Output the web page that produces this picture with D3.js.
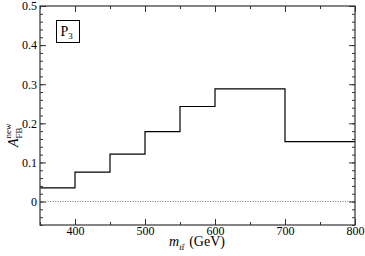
<!DOCTYPE html>
<html>
<head>
<meta charset="utf-8">
<script src="https://cdn.jsdelivr.net/npm/d3@7"></script>
<style>
  body { margin: 0; background: #fff; }
</style>
</head>
<body>
<div id="chart"></div>
<script>
  // bin edges (GeV) and A_FB^new in each bin
  let binEdges = [350, 400, 450, 500, 550, 600, 700, 800];
  let afbValues = [0.035, 0.075, 0.121, 0.179, 0.243, 0.288, 0.153];
  let xTicks = [400, 500, 600, 700, 800];
  let yTicks = [0, 0.1, 0.2, 0.3, 0.4, 0.5];

  let serif = 'Liberation Serif';

  let margin = { top: 6, right: 10, bottom: 31, left: 40 };
  let W = 365, H = 256;
  let width = W - margin.left - margin.right;
  let height = H - margin.top - margin.bottom;

  let svg = d3.select('#chart').append('svg')
    .attr('width', W)
    .attr('height', H)
    .attr('font-family', serif);

  let g = svg.append('g')
    .attr('transform', 'translate(' + margin.left + ',' + margin.top + ')');

  let x = d3.scaleLinear().domain([350, 800]).range([0, width]);
  let y = d3.scaleLinear().domain([-0.06, 0.5]).range([height, 0]);

  // 刻度 (inward, mirrored on all sides)
  let xMinor = d3.range(350, 801, 50);
  let yMinor = d3.range(-0.06, 0.501, 0.02);
  let tickCol = '#333';

  function axisStyle(axis) {
    axis.attr('font-family', serif).attr('font-size', 12);
    axis.select('.domain').remove();
    axis.selectAll('line').attr('stroke', tickCol);
    axis.selectAll('text').attr('fill', '#000');
  }

  g.append('g').attr('transform', 'translate(0,' + height + ')')
    .call(d3.axisBottom(x).tickValues(xTicks).tickSize(-6).tickPadding(1).tickFormat(d3.format('d')))
    .call(axisStyle);
  g.append('g').attr('transform', 'translate(0,' + height + ')')
    .call(d3.axisBottom(x).tickValues(xMinor).tickSize(-3).tickFormat(''))
    .call(axisStyle);
  g.append('g')
    .call(d3.axisTop(x).tickValues(xTicks).tickSize(-6).tickFormat(''))
    .call(axisStyle);
  g.append('g')
    .call(d3.axisTop(x).tickValues(xMinor).tickSize(-3).tickFormat(''))
    .call(axisStyle);

  g.append('g')
    .call(d3.axisLeft(y).tickValues(yTicks).tickSize(-6).tickPadding(3)
      .tickFormat(function(d) { return d === 0 ? '0' : d3.format('.1f')(d); }))
    .call(axisStyle);
  g.append('g')
    .call(d3.axisLeft(y).tickValues(yMinor).tickSize(-3).tickFormat(''))
    .call(axisStyle);
  g.append('g').attr('transform', 'translate(' + width + ',0)')
    .call(d3.axisRight(y).tickValues(yTicks).tickSize(-6).tickFormat(''))
    .call(axisStyle);
  g.append('g').attr('transform', 'translate(' + width + ',0)')
    .call(d3.axisRight(y).tickValues(yMinor).tickSize(-3).tickFormat(''))
    .call(axisStyle);

  // zero line
  g.append('line')
    .attr('x1', 0).attr('x2', width)
    .attr('y1', y(0)).attr('y2', y(0))
    .attr('stroke', '#777')
    .attr('stroke-dasharray', '1,1.5');

  // step histogram
  let pts = [];
  afbValues.forEach(function(v, i) {
    pts.push([binEdges[i], v]);
    pts.push([binEdges[i + 1], v]);
  });
  g.append('path')
    .datum(pts)
    .attr('fill', 'none')
    .attr('stroke', '#000')
    .attr('stroke-width', 1.2)
    .attr('d', d3.line().x(function(d) { return x(d[0]); }).y(function(d) { return y(d[1]); }));

  // frame
  g.append('rect')
    .attr('width', width).attr('height', height)
    .attr('fill', 'none')
    .attr('stroke', tickCol)
    .attr('stroke-width', 1.2);

  // P3 label box
  g.append('rect')
    .attr('x', 16.5).attr('y', 14.5)
    .attr('width', 23).attr('height', 22)
    .attr('fill', '#fff')
    .attr('stroke', '#000');
  let p3 = g.append('text').attr('x', 20.5).attr('y', 30).attr('font-size', 14);
  p3.append('tspan').text('P');
  p3.append('tspan').attr('dy', 3).attr('font-size', 9).text('3');

  // axis labels
  let xl = svg.append('text')
    .attr('x', 169).attr('y', 246)
    .attr('font-size', 14);
  xl.append('tspan').attr('font-style', 'italic').text('m');
  xl.append('tspan').attr('font-style', 'italic').attr('font-size', 9).attr('dy', 4).text('tt\u0304');
  xl.append('tspan').attr('dy', -4).attr('dx', 5).text('(GeV)');

  let yl = svg.append('text')
    .attr('transform', 'translate(18,147) rotate(-90)')
    .attr('font-size', 14);
  yl.append('tspan').attr('font-style', 'italic').text('A');
  yl.append('tspan').attr('font-size', 9).attr('dy', 4).text('FB');
  yl.append('tspan').attr('font-size', 9).attr('dx', -11).attr('dy', -11).text('new');
</script>
</body>
</html>
